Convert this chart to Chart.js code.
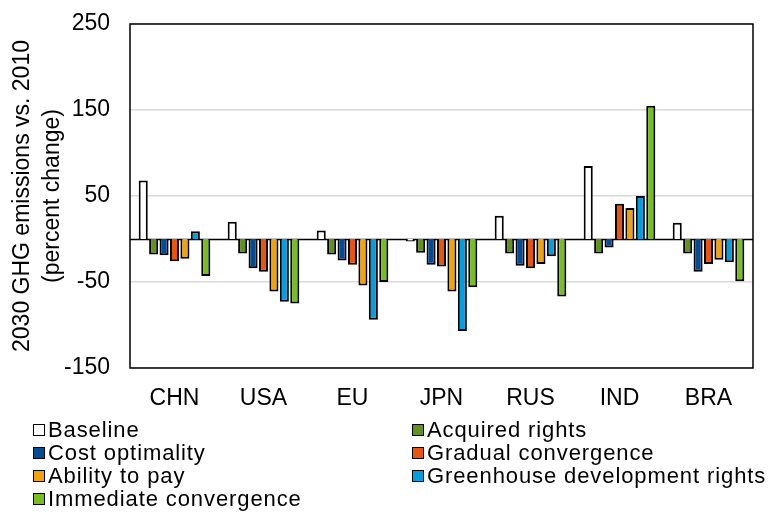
<!DOCTYPE html>
<html>
<head>
<meta charset="utf-8">
<script src="https://cdn.jsdelivr.net/npm/chart.js@4"></script>
<style>
  body { margin: 0; background: #fff; }
  #wrap { position: relative; width: 769px; height: 512px; }
  #legend {
    position: absolute; left: 33px; top: 418px;
    display: grid; grid-template-columns: 379px auto;
    font-family: "Liberation Sans", Arial, sans-serif; font-size: 22px;
    letter-spacing: 0.9px; line-height: 23px; color: #000;
  }
  #legend span.item { display: flex; align-items: center; white-space: nowrap; }
  #legend span.box { width: 10px; height: 10px; border: 1px solid #000; margin-right: 3px; }
</style>
</head>
<body>
<div id="wrap">
  <canvas id="ghgChart" width="769" height="512"></canvas>
  <div id="legend"></div>
</div>
<script>
// 2030 GHG emissions vs. 2010, percent change, by effort-sharing approach
const categories = ['CHN', 'USA', 'EU', 'JPN', 'RUS', 'IND', 'BRA'];
const baseline = [68, 20, 10, -3, 27, 85, 19];
const acquiredRights = [-18, -17, -18, -16, -17, -17, -17];
const costOptimality = [-19, -34, -25, -30, -31, -10, -38];
const gradualConvergence = [-26, -38, -30, -32, -34, 41, -29];
const abilityToPay = [-23, -61, -54, -61, -29, 36, -24];
const greenhouseDevRights = [9, -73, -94, -107, -20, 50, -27];
const immediateConvergence = [-43, -75, -50, -56, -67, 155, -49];
const yTicks = [-150, -50, 50, 150, 250];

const seriesNames = ['Baseline', 'Acquired rights', 'Cost optimality', 'Gradual convergence',
    'Ability to pay', 'Greenhouse development rights', 'Immediate convergence'];
const seriesValues = [baseline, acquiredRights, costOptimality, gradualConvergence,
    abilityToPay, greenhouseDevRights, immediateConvergence];
const seriesColors = ['#ffffff', '#64901e', '#004c97', '#e8560e', '#f0a30a', '#00a0e0', '#78be20'];

const font = { family: '"Liberation Sans", Arial, sans-serif', size: 23 };

// zero line and plot frame
const framePlugin = {
    id: 'frame',
    beforeDatasetsDraw(chart) {
        const { ctx, chartArea: a, scales } = chart;
        const y0 = Math.round(scales.y.getPixelForValue(0)) + 0.5;
        ctx.save();
        ctx.strokeStyle = '#000';
        ctx.lineWidth = 1.5;
        ctx.beginPath();
        ctx.moveTo(a.left, y0);
        ctx.lineTo(a.right, y0);
        ctx.stroke();
        ctx.restore();
    },
    afterDatasetsDraw(chart) {
        const { ctx, chartArea: a } = chart;
        ctx.save();
        ctx.strokeStyle = '#000';
        ctx.lineWidth = 1.5;
        ctx.strokeRect(a.left, a.top, a.right - a.left, a.bottom - a.top);
        ctx.restore();
    }
};

const ctx = document.getElementById('ghgChart').getContext('2d');
const ghgChart = new Chart(ctx, {
    type: 'bar',
    data: {
        labels: categories,
        datasets: seriesNames.map((name, i) => ({
            label: name,
            data: seriesValues[i],
            backgroundColor: seriesColors[i],
            borderColor: '#000',
            borderWidth: 2,
            categoryPercentage: 0.82,
            barPercentage: 0.87
        }))
    },
    options: {
        responsive: false,
        animation: false,
        layout: { padding: { left: 0, right: 16, top: 24, bottom: 100 } },
        plugins: {
            legend: { display: false },
            tooltip: { enabled: false }
        },
        scales: {
            x: {
                grid: { display: false },
                border: { display: false },
                ticks: { color: '#000', font: font, padding: 9 },
                afterFit(axis) { axis.height = 44; }
            },
            y: {
                min: -150,
                max: 250,
                afterBuildTicks(axis) { axis.ticks = yTicks.map(v => ({ value: v })); },
                grid: { color: '#d9d9d9', lineWidth: 1.5, drawTicks: false },
                border: { display: false },
                ticks: { color: '#000', font: font, padding: 20 },
                title: {
                    display: true,
                    text: ['2030 GHG emissions vs. 2010', '(percent change)'],
                    color: '#000',
                    font: { family: font.family, size: 23, lineHeight: 1.3 },
                    padding: { top: 8, bottom: 0 }
                },
                afterFit(axis) {
                    axis.width = 130;
                    axis.paddingTop = 0;
                    axis.paddingBottom = 0;
                }
            }
        }
    },
    plugins: [framePlugin]
});

// legend in two columns, as in the original figure
const legend = document.getElementById('legend');
ghgChart.data.datasets.forEach(ds => {
    const item = document.createElement('span');
    item.className = 'item';
    item.innerHTML = '<span class="box" style="background:' + ds.backgroundColor + '"></span>' + ds.label;
    legend.appendChild(item);
});
</script>
</body>
</html>
